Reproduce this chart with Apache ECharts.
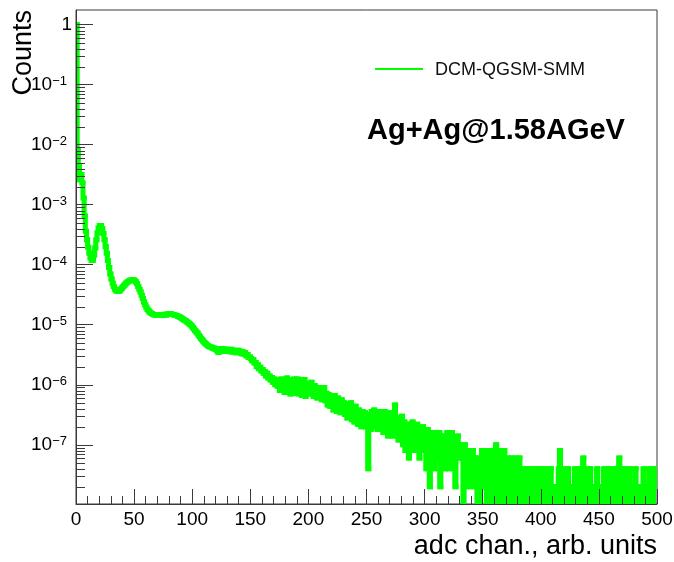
<!DOCTYPE html>
<html>
<head>
<meta charset="utf-8">
<title>ADC spectrum</title>
<script src="https://cdn.jsdelivr.net/npm/echarts@6/dist/echarts.min.js"></script>
<style>
  html, body { margin: 0; padding: 0; background: #ffffff; }
  #chart { width: 674px; height: 562px; }
</style>
</head>
<body>
<div id="chart"></div>
<script>
// ADC spectrum, one bin per channel, normalised counts per bin.
const binWidth = 1;

// channels 0-59: pedestal spike, first and second peaks
const peakBins = [
  1.0, 8.0e-3, 4.5e-3, 2.6e-3, 3.2e-3, 2.3e-3, 1.3e-3, 6.5e-4, 3.6e-4, 2.6e-4,
  1.95e-4, 1.55e-4, 1.3e-4, 1.18e-4, 1.2e-4, 1.45e-4, 1.9e-4, 2.6e-4, 3.4e-4, 4.1e-4,
  4.5e-4, 4.5e-4, 4.0e-4, 3.3e-4, 2.6e-4, 2.0e-4, 1.55e-4, 1.18e-4, 9.0e-5, 7.0e-5,
  5.8e-5, 4.9e-5, 4.3e-5, 3.9e-5, 3.7e-5, 3.6e-5, 3.6e-5, 3.7e-5, 3.9e-5, 4.1e-5,
  4.3e-5, 4.55e-5, 4.8e-5, 5.0e-5, 5.2e-5, 5.35e-5, 5.5e-5, 5.55e-5, 5.6e-5, 5.55e-5,
  5.4e-5, 5.15e-5, 4.8e-5, 4.35e-5, 3.9e-5, 3.5e-5, 3.1e-5, 2.75e-5, 2.4e-5, 2.15e-5
];

// channels 60-119: third peak shoulder
const shoulderBins = [
  1.95e-5, 1.8e-5, 1.7e-5, 1.62e-5, 1.56e-5, 1.52e-5, 1.48e-5, 1.46e-5, 1.45e-5, 1.43e-5,
  1.45e-5, 1.42e-5, 1.45e-5, 1.47e-5, 1.43e-5, 1.46e-5, 1.49e-5, 1.46e-5, 1.5e-5, 1.52e-5,
  1.49e-5, 1.53e-5, 1.5e-5, 1.48e-5, 1.46e-5, 1.44e-5, 1.42e-5, 1.39e-5, 1.36e-5, 1.33e-5,
  1.3e-5, 1.26e-5, 1.22e-5, 1.18e-5, 1.15e-5, 1.11e-5, 1.08e-5, 1.04e-5, 1.0e-5, 9.5e-6,
  9.0e-6, 8.5e-6, 8.0e-6, 7.6e-6, 7.2e-6, 6.7e-6, 6.3e-6, 5.9e-6, 5.6e-6, 5.3e-6,
  5.0e-6, 4.8e-6, 4.6e-6, 4.45e-6, 4.35e-6, 4.25e-6, 4.2e-6, 4.05e-6, 4.1e-6, 3.9e-6
];

// channels 120-199: plateau and drop
const plateauBins = [
  4.0e-6, 3.7e-6, 3.45e-6, 3.95e-6, 3.7e-6, 4.0e-6, 3.6e-6, 3.85e-6, 3.95e-6, 3.6e-6,
  3.85e-6, 3.7e-6, 3.55e-6, 3.9e-6, 3.5e-6, 3.75e-6, 3.6e-6, 3.4e-6, 3.65e-6, 3.75e-6,
  3.45e-6, 3.6e-6, 3.3e-6, 3.55e-6, 3.25e-6, 3.4e-6, 3.05e-6, 3.2e-6, 2.85e-6, 2.9e-6,
  2.75e-6, 2.5e-6, 2.6e-6, 2.3e-6, 2.35e-6, 2.0e-6, 2.15e-6, 1.85e-6, 1.95e-6, 1.7e-6,
  1.8e-6, 1.55e-6, 1.65e-6, 1.4e-6, 1.55e-6, 1.3e-6, 1.4e-6, 1.2e-6, 1.32e-6, 1.1e-6,
  1.25e-6, 1.0e-6, 1.2e-6, 9.4e-7, 1.15e-6, 8.0e-7, 1.25e-6, 8.8e-7, 1.2e-6, 7.4e-7,
  1.15e-6, 1.3e-6, 7.6e-7, 1.12e-6, 7.0e-7, 1.2e-6, 8.4e-7, 1.25e-6, 7.2e-7, 1.1e-6,
  1.25e-6, 7.0e-7, 1.05e-6, 1.2e-6, 6.6e-7, 1.1e-6, 1.22e-6, 6.4e-7, 1.05e-6, 7.4e-7
];

// channels 200-259: falling slope
const slopeBins = [
  1.0e-6, 7.0e-7, 1.1e-6, 8.0e-7, 6.4e-7, 9.6e-7, 7.6e-7, 6.0e-7, 9.0e-7, 6.8e-7,
  8.6e-7, 5.6e-7, 7.8e-7, 9.0e-7, 5.4e-7, 7.2e-7, 4.6e-7, 6.8e-7, 4.4e-7, 6.4e-7,
  5.8e-7, 3.8e-7, 6.6e-7, 4.6e-7, 3.6e-7, 6.0e-7, 4.8e-7, 3.4e-7, 5.6e-7, 3.6e-7,
  5.0e-7, 3.2e-7, 4.8e-7, 2.8e-7, 4.4e-7, 3.0e-7, 5.0e-7, 2.6e-7, 4.0e-7, 2.4e-7,
  4.4e-7, 3.2e-7, 2.2e-7, 3.8e-7, 2.6e-7, 2.0e-7, 3.6e-7, 2.2e-7, 3.4e-7, 2.0e-7,
  3.2e-7, 4.0e-8, 3.0e-7, 1.8e-7, 3.6e-7, 2.2e-7, 3.8e-7, 2.0e-7, 3.0e-7, 1.8e-7
];

// channels 260-329: low-statistics tail
const tailBins = [
  2.8e-7, 3.6e-7, 1.8e-7, 3.2e-7, 1.6e-7, 3.6e-7, 2.0e-7, 3.0e-7, 1.4e-7, 3.4e-7,
  1.8e-7, 3.0e-7, 1.4e-7, 3.2e-7, 4.6e-7, 1.6e-7, 2.8e-7, 1.2e-7, 2.6e-7, 1.4e-7,
  3.0e-7, 1.0e-7, 2.4e-7, 8e-8, 2.2e-7, 1.4e-7, 6e-8, 2.2e-7, 1.2e-7, 2.4e-7,
  8e-8, 2.0e-7, 1.0e-7, 2.2e-7, 1.2e-7, 6e-8, 1.8e-7, 1.0e-7, 2.0e-7, 8e-8,
  1.6e-7, 4e-8, 1.8e-7, 1.0e-7, 2e-8, 1.6e-7, 8e-8, 1.6e-7, 4e-8, 1.2e-7,
  1.4e-7, 6e-8, 1.6e-7, 2e-8, 1.2e-7, 8e-8, 1.4e-7, 4e-8, 1.2e-7, 1.6e-7,
  4e-8, 1.4e-7, 8e-8, 1.6e-7, 4e-8, 1.2e-7, 2e-8, 1.0e-7, 1.4e-7, 6e-8
];

// channels 330-499: single counts, empty bins are 0
const noiseBins = [
  1.0e-7, 6e-8, 8e-8, 0, 1.0e-7, 4e-8, 8e-8, 2e-8, 6e-8, 8e-8,
  4e-8, 8e-8, 2e-8, 6e-8, 4e-8, 0, 6e-8, 0, 4e-8, 8e-8,
  2e-8, 8e-8, 4e-8, 0, 8e-8, 2e-8, 6e-8, 0, 8e-8, 4e-8,
  0, 1.0e-7, 2e-8, 8e-8, 0, 6e-8, 4e-8, 0, 8e-8, 2e-8,
  0, 6e-8, 4e-8, 0, 6e-8, 2e-8, 0, 4e-8, 6e-8, 0,
  2e-8, 6e-8, 0, 4e-8, 2e-8, 0, 4e-8, 2e-8, 0, 2e-8,
  4e-8, 0, 2e-8, 0, 4e-8, 2e-8, 0, 4e-8, 2e-8, 4e-8,
  0, 2e-8, 4e-8, 0, 2e-8, 4e-8, 0, 2e-8, 4e-8, 0,
  2e-8, 0, 2e-8, 2e-8, 0, 4e-8, 8e-8, 0, 2e-8, 4e-8,
  0, 2e-8, 0, 4e-8, 2e-8, 0, 2e-8, 0, 2e-8, 4e-8,
  0, 2e-8, 0, 4e-8, 2e-8, 0, 6e-8, 2e-8, 0, 2e-8,
  4e-8, 0, 4e-8, 2e-8, 0, 2e-8, 0, 2e-8, 4e-8, 0,
  2e-8, 2e-8, 0, 2e-8, 4e-8, 0, 2e-8, 0, 4e-8, 2e-8,
  0, 2e-8, 4e-8, 0, 4e-8, 2e-8, 0, 6e-8, 2e-8, 0,
  2e-8, 4e-8, 0, 2e-8, 0, 2e-8, 4e-8, 0, 2e-8, 0,
  2e-8, 4e-8, 0, 2e-8, 0, 2e-8, 2e-8, 0, 4e-8, 0,
  2e-8, 0, 2e-8, 4e-8, 0, 2e-8, 0, 4e-8, 2e-8, 2e-8
];

const seriesName = 'DCM-QGSM-SMM';
const systemLabel = 'Ag+Ag@1.58AGeV';
const xTitle = 'adc chan., arb. units';
const yTitle = 'Counts';
const xRange = [0, 500];
const xTickStep = 50;
const yRange = [1.03e-8, 1.758];
const yMinorFactors = [2, 3, 4, 5, 6, 7, 8, 9];

const FONT = "'Liberation Sans', Arial, Helvetica, sans-serif";
const AXIS_COLOR = '#3a3a3a';
const LINE_COLOR = '#00ff00';

const binValues = [].concat(peakBins, shoulderBins, plateauBins, slopeBins, tailBins, noiseBins);

// One item per bin: [low edge, high edge, content, content of the previous bin].
// Empty bins sit below the frame and get clipped at its bottom edge.
const emptyLevel = yRange[0] / 10;
const level = function (v) { return v > 0 ? v : emptyLevel; };
const histBins = binValues.map(function (v, i) {
  const prev = i > 0 ? level(binValues[i - 1]) : level(v);
  return [i * binWidth, (i + 1) * binWidth, level(v), prev];
});

// Log minor ticks at 2..9 x 10^n inside the axis range
const yMinorTicks = [];
for (let d = -9; d <= 0; d++) {
  yMinorFactors.forEach(function (k) {
    const v = k * Math.pow(10, d);
    if (v > yRange[0] && v < yRange[1]) yMinorTicks.push([xRange[0], v]);
  });
}

const chart = echarts.init(document.getElementById('chart'), null, { renderer: 'canvas' });

chart.setOption({
  animation: false,
  backgroundColor: '#ffffff',
  textStyle: { fontFamily: FONT },
  grid: {
    left: 76, right: 17, top: 10, bottom: 58,
    containLabel: false,
    outerBoundsMode: 'none',
    show: true,
    borderColor: AXIS_COLOR,
    borderWidth: 1,
    backgroundColor: 'transparent'
  },
  xAxis: {
    type: 'value',
    min: xRange[0],
    max: xRange[1],
    interval: xTickStep,
    z: 5,
    axisLine: { show: true, lineStyle: { color: AXIS_COLOR, width: 1 } },
    axisTick: { show: true, inside: true, length: 15, lineStyle: { color: AXIS_COLOR, width: 1 } },
    minorTick: { show: true, splitNumber: 5, length: 8, lineStyle: { color: AXIS_COLOR, width: 1 } },
    splitLine: { show: false },
    minorSplitLine: { show: false },
    axisLabel: { fontFamily: FONT, fontSize: 19, color: '#000', margin: 6 }
  },
  yAxis: {
    type: 'log',
    logBase: 10,
    min: yRange[0],
    max: yRange[1],
    z: 5,
    axisLine: { show: true, lineStyle: { color: AXIS_COLOR, width: 1 } },
    axisTick: { show: true, inside: true, length: 17, lineStyle: { color: AXIS_COLOR, width: 1 } },
    minorTick: { show: false },
    splitLine: { show: false },
    axisLabel: {
      showMinLabel: false,
      showMaxLabel: false,
      margin: 4,
      color: '#000',
      formatter: function (value) {
        const e = Math.round(Math.log10(value));
        if (e === 0) return '{one|1}';
        return '{base|10}{sup|\u2212' + (-e) + '}';
      },
      rich: {
        one: { fontFamily: FONT, fontSize: 19, color: '#000' },
        base: { fontFamily: FONT, fontSize: 19, lineHeight: 19, color: '#000', verticalAlign: 'bottom', padding: [6, 0, 0, 0] },
        sup: { fontFamily: FONT, fontSize: 13, lineHeight: 19, color: '#000', verticalAlign: 'top', padding: [0, 5, 0, 0] }
      }
    }
  },
  series: [
    {
      // histogram outline: rise/fall at the low edge, then across the bin
      name: seriesName,
      type: 'custom',
      data: histBins,
      encode: { x: [0, 1], y: 2 },
      clip: true,
      z: 2,
      silent: true,
      renderItem: function (params, api) {
        const x0 = api.value(0);
        const x1 = api.value(1);
        const v = api.value(2);
        const pv = api.value(3);
        const pts = [];
        if (params.dataIndex > 0) pts.push(api.coord([x0, pv]));
        pts.push(api.coord([x0, v]), api.coord([x1, v]));
        return {
          type: 'polyline',
          shape: { points: pts },
          style: { stroke: LINE_COLOR, lineWidth: 5, fill: null, lineJoin: 'miter', lineCap: 'square' }
        };
      }
    },
    {
      name: 'yMinorTicks',
      type: 'custom',
      data: yMinorTicks,
      z: 6,
      silent: true,
      clip: false,
      renderItem: function (params, api) {
        const p = api.coord([api.value(0), api.value(1)]);
        const y = Math.round(p[1]) + 0.5;
        const x = Math.round(p[0]);
        return {
          type: 'line',
          shape: { x1: x, y1: y, x2: x + 9, y2: y },
          style: { stroke: AXIS_COLOR, lineWidth: 1 }
        };
      }
    }
  ],
  graphic: [
    // legend entry
    {
      type: 'line',
      shape: { x1: 375, y1: 69, x2: 423, y2: 69 },
      style: { stroke: LINE_COLOR, lineWidth: 2 }
    },
    {
      type: 'text',
      x: 435,
      y: 70,
      style: { text: seriesName, font: '18px ' + FONT, fill: '#111', align: 'left', verticalAlign: 'middle' }
    },
    {
      type: 'text',
      x: 657,
      y: 547,
      style: { text: xTitle, font: '27px ' + FONT, fill: '#000', align: 'right', verticalAlign: 'middle' }
    },
    {
      type: 'text',
      x: 24,
      y: 10,
      rotation: Math.PI / 2,
      style: { text: yTitle, font: '27px ' + FONT, fill: '#000', align: 'right', verticalAlign: 'middle' }
    },
    {
      type: 'text',
      x: 367,
      y: 131,
      style: { text: systemLabel, font: 'bold 29px ' + FONT, fill: '#000', align: 'left', verticalAlign: 'middle' }
    }
  ]
});
</script>
</body>
</html>
